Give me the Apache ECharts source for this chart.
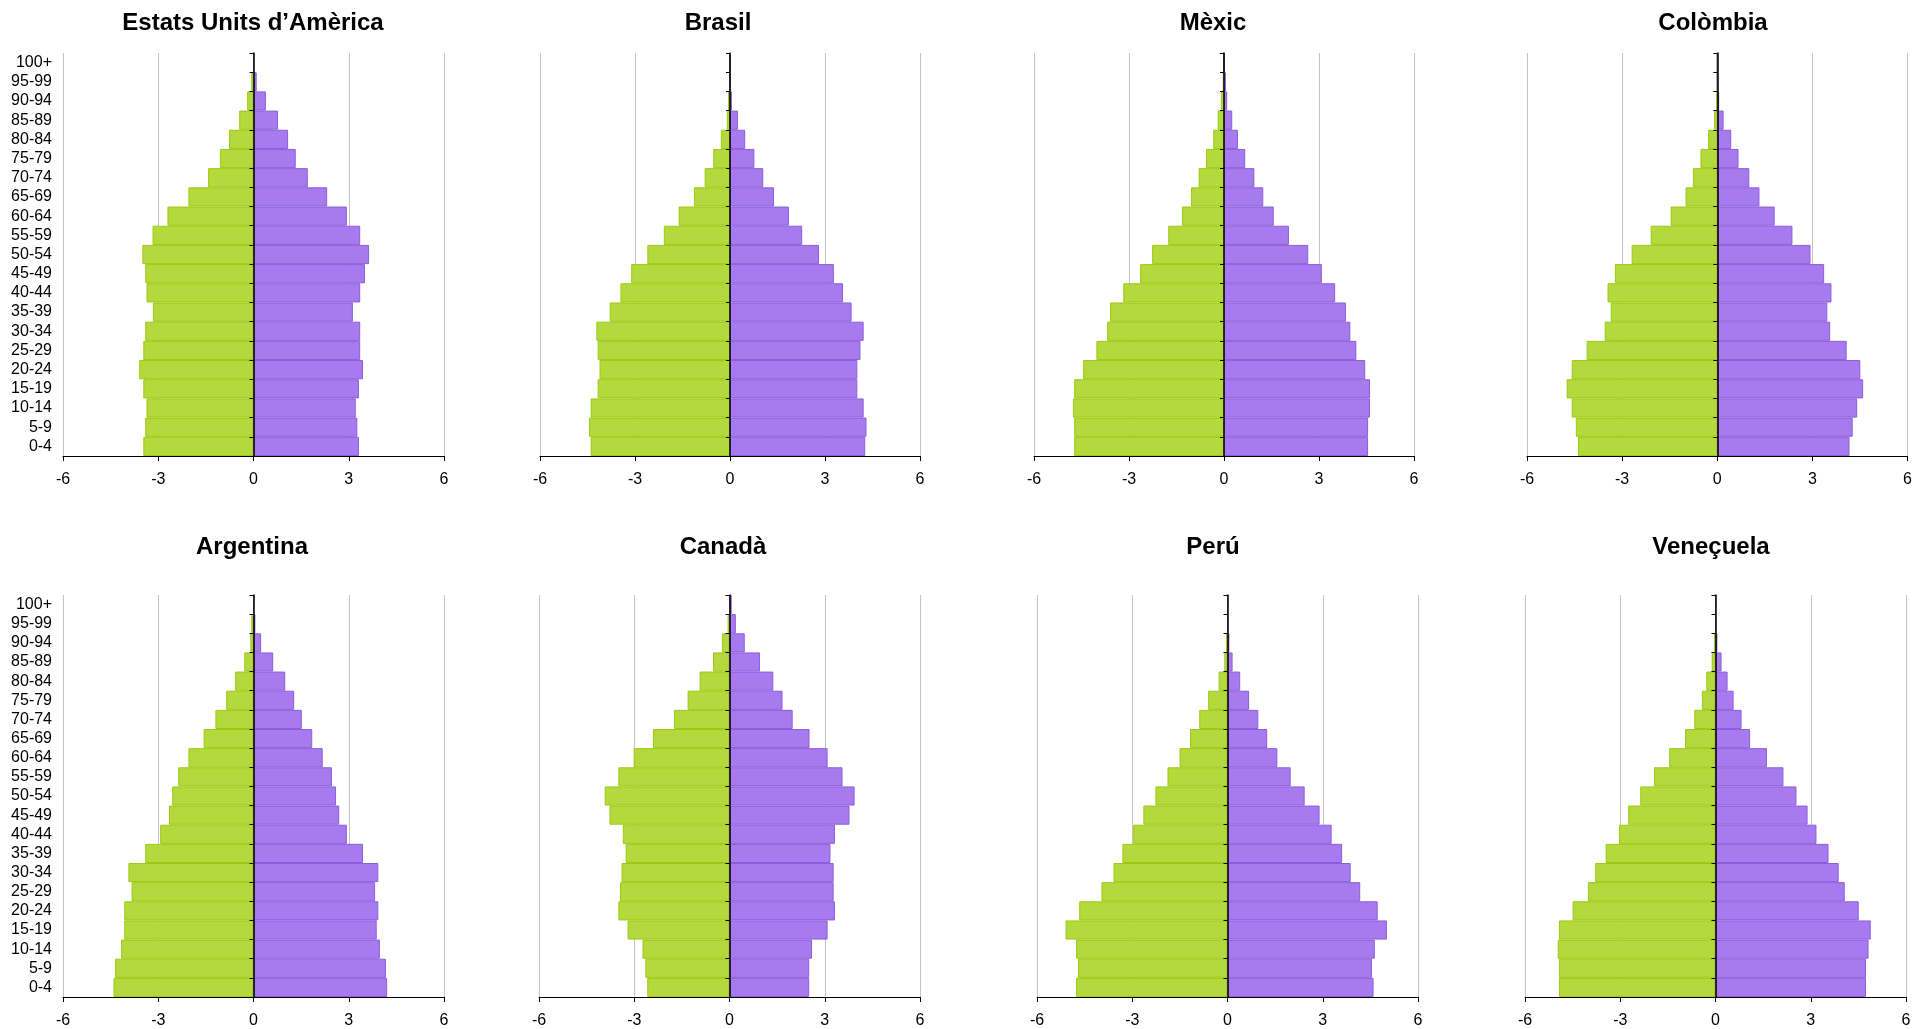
<!DOCTYPE html>
<html>
<head>
<meta charset="utf-8">
<script src="https://cdn.jsdelivr.net/npm/echarts@6/dist/echarts.min.js"></script>
<style>html,body{margin:0;padding:0;background:#fff}#c{width:1915px;height:1029px}</style>
</head>
<body>
<div id="c"></div>
<script>
// ---- DATA (age groups bottom -> top) ----
const ageGroups = ['0-4','5-9','10-14','15-19','20-24','25-29','30-34','35-39','40-44','45-49','50-54','55-59','60-64','65-69','70-74','75-79','80-84','85-89','90-94','95-99','100+'];
const countryNames = ['Estats Units d’Amèrica','Brasil','Mèxic','Colòmbia','Argentina','Canadà','Perú','Veneçuela'];
const xTickValues = [-6,-3,0,3,6];

const usaLeft  = [-3.47,-3.41,-3.37,-3.47,-3.60,-3.47,-3.41,-3.17,-3.37,-3.41,-3.50,-3.18,-2.71,-2.05,-1.43,-1.06,-0.77,-0.45,-0.20,-0.07,0];
const usaRight = [3.32,3.27,3.22,3.32,3.45,3.36,3.36,3.13,3.36,3.51,3.64,3.36,2.94,2.32,1.71,1.33,1.09,0.77,0.39,0.10,0];

const braLeft  = [-4.40,-4.45,-4.40,-4.18,-4.12,-4.18,-4.22,-3.80,-3.46,-3.12,-2.61,-2.09,-1.62,-1.14,-0.80,-0.53,-0.29,-0.10,-0.06,0,0];
const braRight = [4.27,4.31,4.22,4.02,4.02,4.12,4.22,3.84,3.57,3.28,2.81,2.28,1.86,1.39,1.05,0.77,0.48,0.25,0.06,0,0];

const mexLeft  = [-4.73,-4.73,-4.77,-4.73,-4.45,-4.03,-3.69,-3.60,-3.18,-2.65,-2.27,-1.76,-1.33,-1.04,-0.80,-0.57,-0.34,-0.20,-0.10,-0.04,0];
const mexRight = [4.55,4.55,4.61,4.61,4.46,4.18,3.99,3.85,3.51,3.09,2.66,2.05,1.57,1.24,0.96,0.67,0.44,0.26,0.10,0.06,0];

const colLeft  = [-4.39,-4.46,-4.59,-4.75,-4.59,-4.12,-3.55,-3.36,-3.46,-3.23,-2.70,-2.10,-1.47,-1.00,-0.77,-0.53,-0.29,-0.10,-0.04,0,0];
const colRight = [4.17,4.27,4.41,4.60,4.51,4.08,3.56,3.47,3.60,3.37,2.94,2.37,1.81,1.33,1.01,0.67,0.44,0.20,0.06,0,0];

const argLeft  = [-4.41,-4.36,-4.17,-4.07,-4.07,-3.84,-3.94,-3.41,-2.94,-2.66,-2.56,-2.37,-2.05,-1.57,-1.20,-0.86,-0.58,-0.29,-0.10,-0.07,0];
const argRight = [4.21,4.17,3.98,3.88,3.93,3.83,3.93,3.45,2.94,2.70,2.60,2.47,2.18,1.85,1.52,1.28,1.00,0.62,0.24,0.06,0];

const canLeft  = [-2.59,-2.65,-2.74,-3.21,-3.50,-3.45,-3.40,-3.27,-3.36,-3.78,-3.93,-3.50,-3.02,-2.41,-1.75,-1.32,-0.94,-0.52,-0.24,-0.06,0];
const canRight = [2.51,2.51,2.60,3.09,3.32,3.28,3.28,3.18,3.32,3.78,3.94,3.56,3.09,2.52,1.99,1.67,1.38,0.96,0.48,0.20,0.07];

const perLeft  = [-4.77,-4.71,-4.77,-5.10,-4.67,-3.97,-3.59,-3.31,-2.97,-2.65,-2.27,-1.89,-1.51,-1.18,-0.89,-0.61,-0.28,-0.10,-0.05,0,0];
const perRight = [4.60,4.55,4.64,5.02,4.73,4.18,3.88,3.61,3.28,2.90,2.43,1.99,1.57,1.25,0.97,0.68,0.40,0.16,0.06,0,0];

const venLeft  = [-4.93,-4.93,-4.97,-4.93,-4.50,-4.02,-3.79,-3.46,-3.04,-2.75,-2.37,-1.94,-1.46,-0.96,-0.67,-0.43,-0.29,-0.12,-0.05,0,0];
const venRight = [4.74,4.74,4.82,4.89,4.51,4.07,3.88,3.56,3.18,2.90,2.55,2.14,1.62,1.09,0.82,0.57,0.38,0.19,0.06,0,0];

const leftSeries  = [usaLeft, braLeft, mexLeft, colLeft, argLeft, canLeft, perLeft, venLeft];
const rightSeries = [usaRight, braRight, mexRight, colRight, argRight, canRight, perRight, venRight];

// ---- LAYOUT ----
const gridBoxes = [
  {left:63,  top:53,  width:381, height:403},
  {left:540, top:53,  width:380, height:403},
  {left:1034,top:53,  width:380, height:403},
  {left:1527,top:53,  width:381, height:403},
  {left:63,  top:595, width:381, height:403},
  {left:539, top:595, width:381, height:403},
  {left:1037,top:595, width:381, height:403},
  {left:1525,top:595, width:381, height:403}
];
const titlePos = [
  {x:253, y:11}, {x:718, y:11}, {x:1213, y:11}, {x:1713, y:11},
  {x:252, y:535}, {x:723, y:535}, {x:1213, y:535}, {x:1711, y:535}
];

const FONT = 'Liberation Sans, Arial, Helvetica, sans-serif';
const greenFill = '#b4d93c', greenLine = '#9cc915';
const purpleFill = '#a87af0', purpleLine = '#8a5fd9';

const grids = [], xAxes = [], yAxes = [], series = [], titles = [];
for (let i = 0; i < 8; i++) {
  grids.push(Object.assign({containLabel:false}, gridBoxes[i]));
  titles.push({
    text: countryNames[i], left: titlePos[i].x, top: titlePos[i].y, padding: 0,
    textAlign: 'center',
    textStyle: {fontSize: 24, fontWeight: 'bold', color: '#000', fontFamily: FONT}
  });
  xAxes.push({
    gridIndex: i, type: 'value', min: xTickValues[0], max: xTickValues[xTickValues.length-1], interval: 3,
    axisLine: {show: true, onZero: false, lineStyle: {color: '#000', width: 1}},
    axisTick: {show: true, length: 5, lineStyle: {color: '#000'}},
    axisLabel: {fontSize: 16, color: '#000', margin: 16, fontFamily: FONT},
    splitLine: {show: true, lineStyle: {color: '#c4c4c4', width: 1}}
  });
  // label axis (left edge)
  yAxes.push({
    gridIndex: i, type: 'category', data: ageGroups, position: 'left',
    axisLine: {show: false, onZero: false}, axisTick: {show: false},
    axisLabel: {show: i % 4 === 0, interval: 0, fontSize: 16, color: '#000', margin: 11, fontFamily: FONT},
    splitLine: {show: false}
  });
  // zero axis (line + ticks at x=0)
  yAxes.push({
    gridIndex: i, type: 'category', data: ageGroups, position: 'left', z: 10,
    axisLine: {show: true, onZero: true, lineStyle: {color: '#000', width: 1.5}},
    axisTick: {show: true, interval: 0, length: 4, lineStyle: {color: '#000'}},
    axisLabel: {show: false, interval: 0}, splitLine: {show: false}
  });
  series.push({
    type: 'bar', xAxisIndex: i, yAxisIndex: 2*i, stack: 'p' + i, data: leftSeries[i],
    barCategoryGap: '0%', silent: true,
    itemStyle: {color: greenFill, borderColor: greenLine, borderWidth: 1}
  });
  series.push({
    type: 'bar', xAxisIndex: i, yAxisIndex: 2*i, stack: 'p' + i, data: rightSeries[i],
    barCategoryGap: '0%', silent: true,
    itemStyle: {color: purpleFill, borderColor: purpleLine, borderWidth: 1}
  });
}

const chart = echarts.init(document.getElementById('c'), null, {renderer: 'canvas'});
chart.setOption({
  animation: false,
  backgroundColor: '#fff',
  textStyle: {fontFamily: FONT},
  title: titles, grid: grids, xAxis: xAxes, yAxis: yAxes, series: series
});
</script>
</body>
</html>
